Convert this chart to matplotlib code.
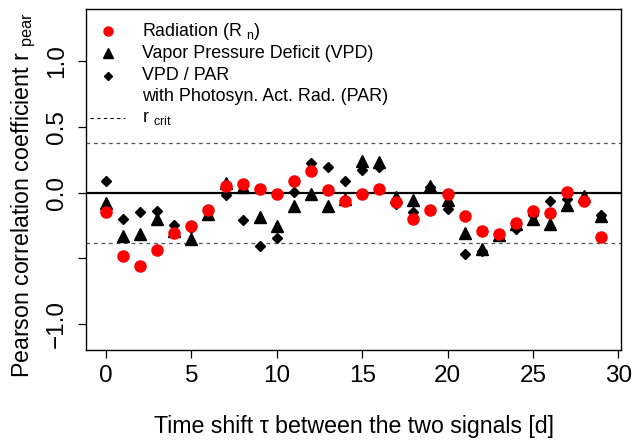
import matplotlib
matplotlib.use("Agg")
import matplotlib.pyplot as plt
import numpy as np

plt.rcParams['font.family'] = ['Liberation Sans', 'DejaVu Sans']
plt.rcParams['mathtext.fontset'] = 'custom'
plt.rcParams['mathtext.rm'] = 'Liberation Sans'

# time shift [d]
shift = list(range(30))

# Radiation (Rn)
r_rad = [-0.145, -0.48, -0.56, -0.435, -0.307, -0.252, -0.129, 0.05, 0.068, 0.03,
         -0.008, 0.091, 0.167, 0.023, -0.063, -0.008, 0.025, -0.071, -0.198, -0.135,
         -0.008, -0.177, -0.294, -0.312, -0.228, -0.137, -0.152, 0.003, -0.063, -0.335]
# Vapor pressure deficit
r_vpd = [-0.076, -0.333, -0.312, -0.2, -0.29, -0.355, -0.16, 0.074, 0.043, -0.185,
         -0.251, -0.104, -0.013, -0.104, -0.05, 0.24, 0.233, -0.033, -0.058, 0.051,
         -0.058, -0.307, -0.426, -0.324, -0.24, -0.198, -0.236, -0.096, -0.028, -0.175]
# VPD / PAR
r_vpar = [0.086, -0.203, -0.147, -0.142, -0.243, -0.269, -0.13, -0.018, -0.21, -0.406,
          -0.342, 0.003, 0.226, 0.195, 0.087, 0.17, 0.198, -0.089, -0.147, 0.04,
          -0.127, -0.464, -0.444, -0.32, -0.274, -0.17, -0.066, -0.05, -0.045, -0.17]
r_crit = 0.38

fig = plt.figure(figsize=(6.34, 4.44), dpi=100)
ax = fig.add_axes([0.136, 0.2117, 0.8435, 0.768])

ax.axhline(0, color='black', lw=1.6, zorder=1)
ax.axhline(r_crit, color='#555555', lw=0.9, ls=(0, (3, 3)), zorder=1)
ax.axhline(-r_crit, color='#555555', lw=0.9, ls=(0, (3, 3)), zorder=1)

ax.plot(shift, r_vpd, ls='none', marker='^', ms=8.5, color='black', zorder=3)
ax.plot(shift, r_vpar, ls='none', marker='D', ms=4.6, color='black', zorder=4)
ax.plot(shift, r_rad, ls='none', marker='o', ms=8, color='#ff0000', zorder=5)

ax.set_xlim(-1.16, 30.16)
ax.set_ylim(-1.196, 1.396)
ax.set_xticks([0, 5, 10, 15, 20, 25, 30])
ax.set_yticks([-1.0, -0.5, 0.0, 0.5, 1.0])
ax.set_yticklabels(['\u22121.0', '', '0.0', '0.5', '1.0'], rotation=90, va='center')
ax.tick_params(axis='both', direction='out', length=6, width=0.9, labelsize=17.5)
ax.tick_params(axis='x', pad=5)
ax.tick_params(axis='y', pad=7)
for sp in ax.spines.values():
    sp.set_linewidth(1.0)

ax.set_xlabel('Time shift \u03c4 between the two signals [d]', fontsize=16.7, labelpad=20)
ax.set_ylabel(r'Pearson correlation coefficient r $_{\mathregular{pear}}$', fontsize=16.7)
ax.yaxis.set_label_coords(-0.09, 0.455)

# legend, drawn by hand like R's legend()
tr = ax.transAxes
mx, tx = 0.0406, 0.104
ax.plot([mx], [0.935], transform=tr, marker='o', ms=6.5, color='#ff0000', ls='none', clip_on=False)
ax.plot([mx], [0.871], transform=tr, marker='^', ms=7, color='black', ls='none', clip_on=False)
ax.plot([mx], [0.804], transform=tr, marker='D', ms=4, color='black', ls='none', clip_on=False)
ax.plot([0.007, 0.072], [0.680, 0.680], transform=tr, color='black', lw=0.8, ls=(0, (3, 3)), clip_on=False)
fs = 12.9
ax.text(tx, 0.935, r'Radiation (R $_{\mathregular{n}}$)', transform=tr, fontsize=fs, va='center')
ax.text(tx, 0.871, 'Vapor Pressure Deficit (VPD)', transform=tr, fontsize=fs, va='center')
ax.text(tx, 0.804, 'VPD / PAR', transform=tr, fontsize=fs, va='center')
ax.text(tx, 0.742, 'with Photosyn. Act. Rad. (PAR)', transform=tr, fontsize=fs, va='center')
ax.text(tx, 0.680, r'r $_{\mathregular{crit}}$', transform=tr, fontsize=fs, va='center')

fig.savefig('out.png', dpi=100)
